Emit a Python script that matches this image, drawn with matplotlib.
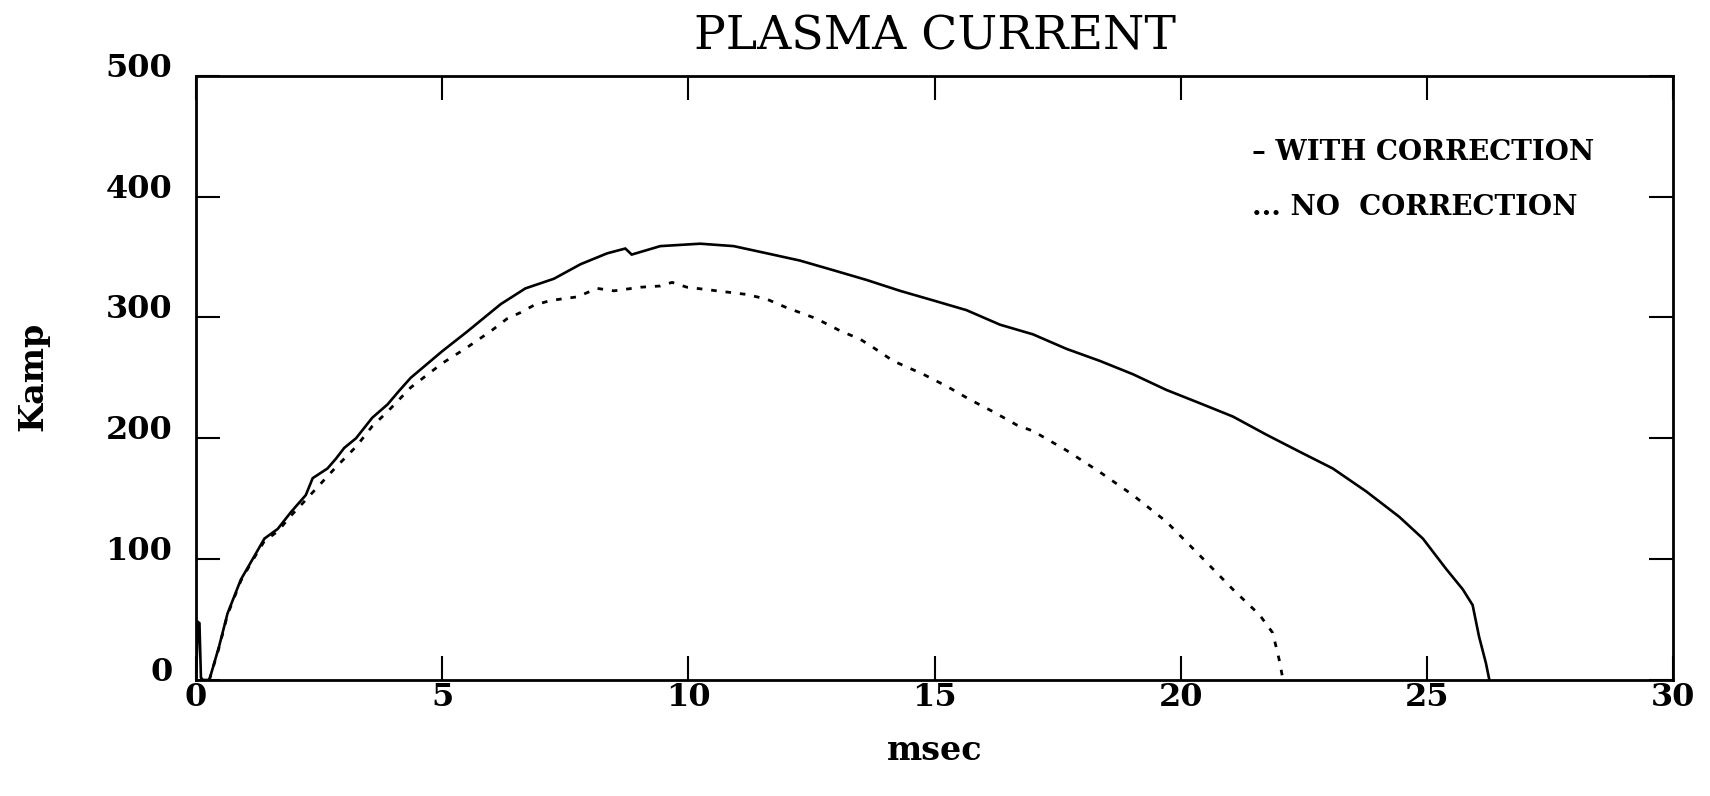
import matplotlib
matplotlib.use("Agg")
import matplotlib.pyplot as plt
import matplotlib.transforms as mtransforms

# ---- data ----
t_with = [0.0, 0.04, 0.07, 0.10, 0.14, 0.27, 0.47, 0.64, 0.91, 1.15, 1.39, 1.66, 1.93,
          2.23, 2.37, 2.67, 2.84, 3.01, 3.25, 3.58, 3.89, 4.12, 4.36, 5.0, 5.5, 6.19,
          6.69, 7.27, 7.81, 8.35, 8.72, 8.85, 9.43, 10.24, 10.92, 11.6, 12.27, 12.95,
          13.62, 14.3, 14.98, 15.65, 16.33, 17.0, 17.68, 18.36, 19.03, 19.71, 20.39,
          21.06, 21.74, 22.41, 23.09, 23.77, 24.44, 24.92, 25.39, 25.73, 25.93, 26.06,
          26.2, 26.27]
i_with = [0, 48, 47, 2, 0, 0, 28, 55, 83, 100, 117, 125, 139,
          153, 167, 175, 183, 192, 200, 217, 228, 239, 250, 272, 288, 311,
          324, 332, 344, 353, 357, 352, 359, 361, 359, 353, 347, 339,
          331, 322, 314, 306, 294, 286, 274, 264, 253, 240, 229,
          218, 203, 189, 175, 156, 135, 117, 92, 75, 62, 36,
          14, 0]

t_no = [0.27, 0.47, 0.64, 0.91, 1.15, 1.39, 1.66, 1.93, 2.23, 2.5, 2.84, 3.25, 3.58,
        3.89, 4.36, 5.0, 5.5, 6.0, 6.32, 6.59, 6.86, 7.2, 7.74, 8.15, 8.49, 9.03, 9.43,
        9.67, 9.97, 10.38, 10.78, 11.19, 11.6, 12.0, 12.27, 12.6, 13.08, 13.49, 13.76,
        14.16, 14.77, 15.25, 15.72, 16.19, 16.67, 17.0, 17.68, 18.36, 19.03, 19.71,
        20.39, 21.06, 21.6, 21.87, 22.0, 22.08]
i_no = [0, 27, 54, 82, 99, 115, 123, 136, 149, 161, 176, 193, 210,
        222, 242, 262, 275, 289, 299, 304, 310, 314, 317, 324, 322, 325, 326,
        329, 325, 323, 321, 319, 315, 308, 304, 299, 289, 282, 275,
        264, 253, 243, 232, 222, 211, 206, 190, 172, 153, 131,
        103, 75, 54, 39, 17, 0]

x_ticks = [0, 5, 10, 15, 20, 25, 30]
y_ticks = [0, 100, 200, 300, 400, 500]
title = "PLASMA CURRENT"
x_label = "msec"
y_label = "Kamp"
legend_lines = ["\u2013 WITH CORRECTION", "... NO  CORRECTION"]

# ---- figure ----
W, H = 1710, 796
fig = plt.figure(figsize=(W / 100, H / 100), dpi=100)
ax = fig.add_axes([196 / W, 1 - 680 / H, (1673 - 196) / W, (680 - 75.7) / H])

ax.plot(t_with, i_with, color="black", lw=1.9, solid_joinstyle="miter")
ax.plot(t_no, i_no, color="black", lw=2.0, linestyle=(0, (2.0, 3.2)))

ax.set_xlim(0, 30)
ax.set_ylim(0, 500)
ax.set_xticks(x_ticks)
ax.set_yticks(y_ticks)

serif = ["DejaVu Serif"]
ax.tick_params(axis="both", direction="in", length=17, width=1.5,
               top=True, right=True, labelsize=23)
ax.tick_params(axis="x", pad=1.5)
ax.tick_params(axis="y", pad=17)
for lab in ax.get_xticklabels() + ax.get_yticklabels():
    lab.set_family(serif)
    lab.set_fontweight("bold")
off = mtransforms.ScaledTranslation(0, 11 / 100, fig.dpi_scale_trans)
for lab in ax.get_yticklabels():
    lab.set_transform(lab.get_transform() + off)

for s in ax.spines.values():
    s.set_linewidth(2.0)

fig.text(935 / W, 1 - 50 / H, title, ha="center", va="baseline",
         fontsize=34, family=serif)
fig.text(935 / W, 1 - 750 / H, x_label, ha="center", va="center",
         fontsize=24, family=serif, fontweight="bold")
fig.text(33 / W, 1 - 376 / H, y_label, ha="center", va="center", rotation=90,
         fontsize=24, family=serif, fontweight="bold")

fig.text(1252 / W, 1 - 160 / H, legend_lines[0], ha="left", va="baseline",
         fontsize=20, family=serif, fontweight="bold")
fig.text(1252 / W, 1 - 215 / H, legend_lines[1], ha="left", va="baseline",
         fontsize=20, family=serif, fontweight="bold")

fig.savefig("out.png", dpi=100)
